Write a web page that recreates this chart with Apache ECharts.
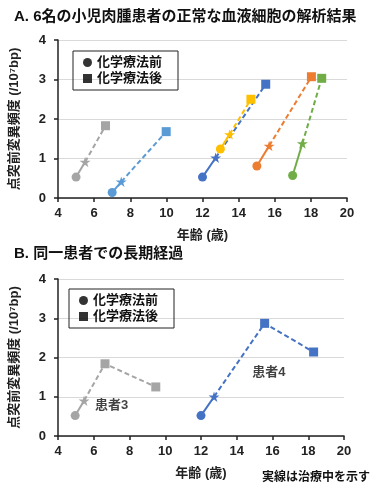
<!DOCTYPE html>
<html><head><meta charset="utf-8">
<script src="https://cdn.jsdelivr.net/npm/echarts@6/dist/echarts.min.js"></script>
<style>html,body{margin:0;padding:0;background:#fff}#c{width:390px;height:494px}</style>
</head><body><div id="c"></div>
<script>
// ---- Data (age in years, mutation frequency /10^7bp) ----
// Panel A: points = [before chemo, during, after chemo]
const aGrayAge = [5.0, 5.5, 6.63],    aGrayVal = [0.53, 0.91, 1.83];
const aLBlueAge = [7.0, 7.5, 9.99],   aLBlueVal = [0.14, 0.41, 1.68];
const aBlueAge = [12.0, 12.73, 15.5], aBlueVal = [0.53, 1.02, 2.88];
const aYellowAge = [12.99, 13.5, 14.68], aYellowVal = [1.24, 1.61, 2.5];
const aOrangeAge = [15.01, 15.69, 18.03], aOrangeVal = [0.81, 1.32, 3.07];
const aGreenAge = [16.99, 17.53, 18.6], aGreenVal = [0.57, 1.38, 3.03];
// Panel B: long-term follow-up
const bGrayAge = [4.96, 5.46, 6.63, 9.47], bGrayVal = [0.52, 0.9, 1.84, 1.25];
const bBlueAge = [12.0, 12.73, 15.56, 18.3], bBlueVal = [0.52, 1.0, 2.87, 2.14];
const legendNames = ['化学療法前', '化学療法後'];
const patientLabels = ['患者3', '患者4'];
const patientLabelPos = [[7.0, 0.77], [15.8, 1.61]];

const FONT = '"Liberation Sans", Arial, "Noto Sans CJK JP", sans-serif';
const STAR = 'path://M50,0 L61,35 L98,35 L68,57 L79,91 L50,70 L21,91 L32,57 L2,35 L39,35 Z';

function symFor(i) { return i === 0 ? 'circle' : (i === 1 ? STAR : 'rect'); }
function sizeFor(i) { return i === 1 ? 11 : 9; }

function patientSeries(ages, vals, color, g) {
  const pts = ages.map((a, i) => ({ value: [a, vals[i]], symbol: symFor(i), symbolSize: sizeFor(i) }));
  const solid = {
    type: 'line', xAxisIndex: g, yAxisIndex: g, silent: true, animation: false,
    data: [pts[0], Object.assign({}, pts[1], { symbol: 'none' })],
    lineStyle: { color: color, width: 2, type: 'solid' },
    itemStyle: { color: color }, symbolKeepAspect: true, z: 3
  };
  const dashed = {
    type: 'line', xAxisIndex: g, yAxisIndex: g, silent: true, animation: false,
    data: pts.slice(1),
    lineStyle: { color: color, width: 2, type: [5, 3] },
    itemStyle: { color: color }, symbolKeepAspect: true, z: 3
  };
  return [solid, dashed];
}

function xAxis(g) {
  return {
    gridIndex: g, type: 'value', min: 4, max: 20, interval: 2,
    name: '年齢 (歳)', nameLocation: 'middle', nameGap: 31,
    nameTextStyle: { fontFamily: FONT, fontSize: 13, fontWeight: 'bold', color: '#222' },
    axisLine: { lineStyle: { color: '#222', width: 1.5 } },
    axisTick: { show: true, length: 4, lineStyle: { color: '#222', width: 1.5 } },
    axisLabel: { fontFamily: FONT, fontSize: 13, fontWeight: 'bold', color: '#222', margin: 9 },
    splitLine: { show: false }
  };
}
function yAxis(g) {
  return {
    gridIndex: g, type: 'value', min: 0, max: 4, interval: 1,
    name: '点突前変異頻度 (/10⁷bp)', nameLocation: 'middle', nameGap: 37, nameRotate: 90,
    nameTextStyle: { fontFamily: FONT, fontSize: 13, fontWeight: 'bold', color: '#222' },
    axisLine: { show: true, lineStyle: { color: '#222', width: 1.5 } },
    axisTick: { show: true, length: 4, lineStyle: { color: '#222', width: 1.5 } },
    axisLabel: { fontFamily: FONT, fontSize: 13, fontWeight: 'bold', color: '#222', margin: 12 },
    splitLine: { show: true, lineStyle: { color: '#d9d9d9', width: 1 } }
  };
}
function legend(left, top) {
  return {
    left: left, top: top, orient: 'vertical', selectedMode: false,
    data: [{ name: legendNames[0], icon: 'circle' }, { name: legendNames[1], icon: 'rect' }],
    itemWidth: 9, itemHeight: 9, itemGap: 3,
    borderColor: '#222', borderWidth: 1, padding: [5, 16, 5, 10],
    textStyle: { fontFamily: FONT, fontSize: 13, fontWeight: 'bold', color: '#111' }
  };
}

const series = [];
[[aGrayAge, aGrayVal, '#a5a5a5'], [aLBlueAge, aLBlueVal, '#5b9bd5'], [aBlueAge, aBlueVal, '#4472c4'],
 [aYellowAge, aYellowVal, '#ffc000'], [aOrangeAge, aOrangeVal, '#ed7d31'], [aGreenAge, aGreenVal, '#70ad47']]
  .forEach(p => series.push(...patientSeries(p[0], p[1], p[2], 0)));
[[bGrayAge, bGrayVal, '#a5a5a5'], [bBlueAge, bBlueVal, '#4472c4']]
  .forEach(p => series.push(...patientSeries(p[0], p[1], p[2], 1)));
// patient labels in panel B
series.push({
  type: 'scatter', xAxisIndex: 1, yAxisIndex: 1, silent: true, animation: false,
  symbolSize: 0,
  data: patientLabelPos.map((p, i) => ({ value: p, name: patientLabels[i] })),
  label: { show: true, position: 'inside', formatter: d => d.name,
    fontFamily: FONT, fontSize: 13, fontWeight: 'bold', color: '#111' }
});
// legend dummy series
series.push({ type: 'scatter', name: legendNames[0], symbol: 'circle', data: [], itemStyle: { color: '#000' } });
series.push({ type: 'scatter', name: legendNames[1], symbol: 'rect', data: [], itemStyle: { color: '#000' } });

const option = {
  backgroundColor: '#fff',
  animation: false,
  grid: [
    { left: 55, right: 43, top: 40, height: 158 },
    { left: 54, right: 46, top: 279, height: 157 }
  ],
  xAxis: [xAxis(0), xAxis(1)],
  yAxis: [yAxis(0), yAxis(1)],
  legend: [legend(73, 51), legend(69, 289)],
  graphic: [
    { type: 'text', left: 14, top: 9, style: { text: 'A. 6名の小児肉腫患者の正常な血液細胞の解析結果', font: 'bold 15px ' + FONT, fill: '#111' } },
    { type: 'text', left: 14, top: 246, style: { text: 'B. 同一患者での長期経過', font: 'bold 15px ' + FONT, fill: '#111' } },
    { type: 'text', left: 262, top: 472, style: { text: '実線は治療中を示す', font: 'bold 12px ' + FONT, fill: '#111' } }
  ],
  series: series
};
echarts.init(document.getElementById('c'), null, { renderer: 'canvas' }).setOption(option);
</script></body></html>
